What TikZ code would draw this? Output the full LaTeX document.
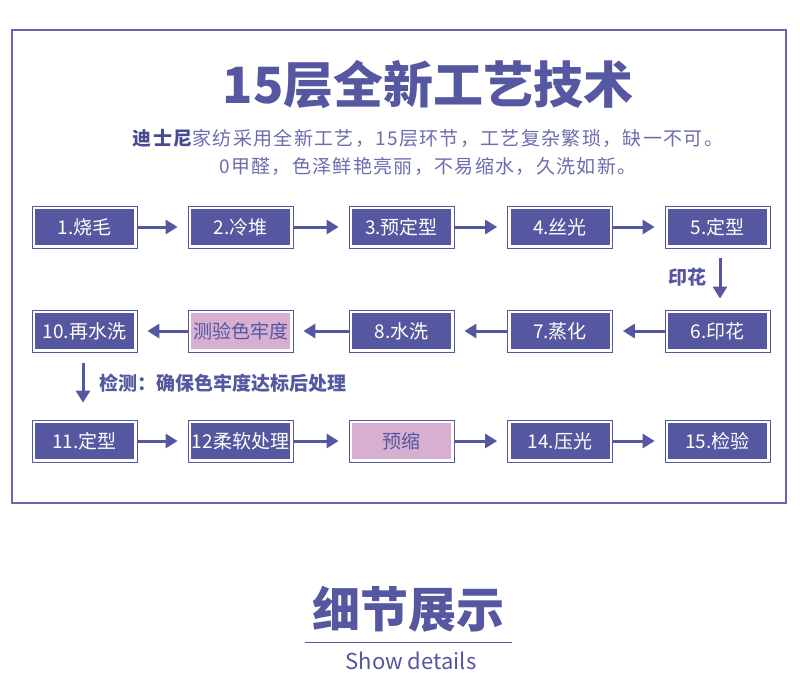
\documentclass[tikz,border=0pt]{standalone}
\usepackage{fontspec}
\setmainfont{Noto Sans CJK SC}
\newfontfamily\cjkls[LetterSpace=7]{Noto Sans CJK SC}
\usetikzlibrary{arrows.meta}
\definecolor{vio}{HTML}{5557A0}
\definecolor{framec}{HTML}{6567B5}
\definecolor{subc}{HTML}{6C6CB0}
\definecolor{subd}{HTML}{484A92}
\definecolor{pinkf}{HTML}{D6AFD1}
\tikzset{
  proc/.style={draw=vio, line width=0.8pt, fill=white, minimum width=105pt, minimum height=42pt,
    inner sep=0pt, text=white, font=\fontsize{19}{19}\selectfont,
    path picture={\fill[vio] ([shift={(3pt,-3pt)}]path picture bounding box.north west) rectangle ([shift={(-3pt,3pt)}]path picture bounding box.south east);}},
  procpink/.style={proc, text=vio,
    path picture={\fill[pinkf] ([shift={(3pt,-3pt)}]path picture bounding box.north west) rectangle ([shift={(-3pt,3pt)}]path picture bounding box.south east);}},
  arr/.style={draw=vio, line width=3pt, -{Triangle[length=12pt,width=14pt]}},
  lbl/.style={text=vio, font=\fontsize{19}{19}\selectfont\bfseries, inner sep=0pt}
}
\begin{document}
\begin{tikzpicture}[x=1pt,y=-1pt]
\useasboundingbox (0,0) rectangle (800,679);
\fill[white] (0,0) rectangle (800,679);
\draw[framec, line width=1.5pt] (12,30) rectangle (786,503);
% title
\node[text=vio, font=\fontsize{50}{50}\selectfont\bfseries, inner sep=0pt] (title) at (428,85) {15层全新工艺技术};
\node[font=\fontsize{19}{19}\cjkls, inner sep=0pt] (sub1) at (428,138) {{\bfseries\color{subd}迪士尼}{\color{subc}家纺采用全新工艺，15层环节，工艺复杂繁琐，缺一不可。}};
\node[font=\fontsize{19}{19}\cjkls, text=subc, inner sep=0pt] (sub2) at (428,166) {0甲醛，色泽鲜艳亮丽，不易缩水，久洗如新。};
% row 1
\node[proc] (b1) at (84.5,227) {1.烧毛};
\node[proc] (b2) at (240.5,227) {2.冷堆};
\node[proc] (b3) at (401.5,227) {3.预定型};
\node[proc] (b4) at (560,227) {4.丝光};
\node[proc] (b5) at (717.5,227) {5.定型};
% row 2
\node[proc] (b10) at (84.5,331) {10.再水洗};
\node[procpink] (b9) at (240.5,331) {测验色牢度};
\node[proc] (b8) at (401.5,331) {8.水洗};
\node[proc] (b7) at (560,331) {7.蒸化};
\node[proc] (b6) at (717.5,331) {6.印花};
% row 3
\node[proc] (b11) at (84.5,441) {11.定型};
\node[proc] (b12) at (240.5,441) {12柔软处理};
\node[procpink] (b13) at (401.5,441) {预缩};
\node[proc] (b14) at (560,441) {14.压光};
\node[proc] (b15) at (717.5,441) {15.检验};
% arrows row 1
\draw[arr] (b1.east) -- ([xshift=-10pt]b2.west);
\draw[arr] (b2.east) -- ([xshift=-10pt]b3.west);
\draw[arr] (b3.east) -- ([xshift=-10pt]b4.west);
\draw[arr] (b4.east) -- ([xshift=-10pt]b5.west);
% down
\draw[arr] ([xshift=2.5pt,yshift=-10pt]b5.south) -- ([xshift=2.5pt,yshift=11pt]b6.north);
\node[lbl] (l1) at (687,277) {印花};
% row 2 arrows
\draw[arr] (b6.west) -- ([xshift=10pt]b7.east);
\draw[arr] (b7.west) -- ([xshift=10pt]b8.east);
\draw[arr] (b8.west) -- ([xshift=10pt]b9.east);
\draw[arr] (b9.west) -- ([xshift=10pt]b10.east);
% down 2
\draw[arr] ([xshift=-1.5pt,yshift=-11pt]b10.south) -- ([xshift=-1.5pt,yshift=17pt]b11.north);
\node[lbl, anchor=west] (l2) at (99,383) {检测：确保色牢度达标后处理};
% row 3 arrows
\draw[arr] (b11.east) -- ([xshift=-10pt]b12.west);
\draw[arr] (b12.east) -- ([xshift=-10pt]b13.west);
\draw[arr] (b13.east) -- ([xshift=-10pt]b14.west);
\draw[arr] (b14.east) -- ([xshift=-10pt]b15.west);
% bottom
\node[text=vio, font=\fontsize{48}{48}\selectfont\bfseries, inner sep=0pt] (det) at (408,609) {细节展示};
\coordinate (ul1) at (305,642);
\coordinate (ul2) at (512,642);
\draw[vio, line width=1pt] (ul1) -- (ul2);
\node[text=vio, font=\fontsize{22}{22}\selectfont, inner sep=0pt] (sd) at (411,661) {Show details};
\end{tikzpicture}
\end{document}
